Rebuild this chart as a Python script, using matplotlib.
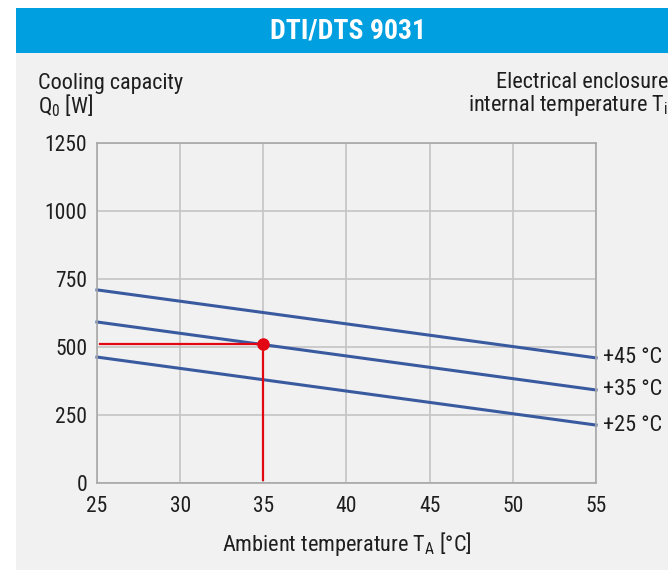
import matplotlib
matplotlib.use("Agg")
import matplotlib.pyplot as plt
from matplotlib.patches import Rectangle

plt.rcParams['font.family'] = ['Roboto Condensed', 'Liberation Sans', 'DejaVu Sans']
plt.rcParams['mathtext.fontset'] = 'custom'
plt.rcParams['mathtext.rm'] = 'Roboto Condensed'
plt.rcParams['mathtext.it'] = 'Roboto Condensed'

title = "DTI/DTS 9031"
x_ticks = [25, 30, 35, 40, 45, 50, 55]
y_ticks = [0, 250, 500, 750, 1000, 1250]
series_labels = ["+45 °C", "+35 °C", "+25 °C"]
series_x = [25, 55]
series_y = [[710, 460], [592, 342], [463, 213]]
point_x = 35
point_y = 510

TXT = "#1e1e1e"
W, H = 668, 570
fig = plt.figure(figsize=(W / 100, H / 100), dpi=100)
fig.patch.set_facecolor("white")
fig.add_artist(Rectangle((16 / W, 0), 1, (H - 53) / H, transform=fig.transFigure,
                         facecolor="#f1f1f1", edgecolor="none", zorder=-10))
fig.add_artist(Rectangle((16 / W, (H - 53) / H), 1, 45 / H, transform=fig.transFigure,
                         facecolor="#009fe0", edgecolor="none", zorder=-10))
fig.text(348 / W, 1 - 31 / H, title, color="white", fontsize=20, fontweight="bold",
         ha="center", va="center")

ax = fig.add_axes([97 / W, 1 - 483 / H, (596 - 97) / W, (483 - 143) / H])
ax.set_facecolor("#f1f1f1")
ax.set_xlim(25, 55)
ax.set_ylim(0, 1250)
ax.set_xticks(x_ticks)
ax.set_yticks(y_ticks)
ax.grid(True, color="#c4c4c4", linewidth=1.2)
ax.set_axisbelow(True)
for s in ax.spines.values():
    s.set_color("#a8a8a8")
    s.set_linewidth(1.2)
ax.tick_params(length=0, labelsize=15.5, colors=TXT)
ax.tick_params(axis="y", pad=7)
ax.tick_params(axis="x", pad=9)

for ys, lab in zip(series_y, series_labels):
    ax.plot(series_x, ys, color="#3a5aa0", linewidth=2.2, clip_on=False)
    ax.annotate(lab, xy=(series_x[-1], ys[-1]), xytext=(5, 0), textcoords="offset points",
                ha="left", va="center", fontsize=16, color=TXT, annotation_clip=False)

ax.plot([25.2, point_x], [point_y, point_y], color="#e30613", linewidth=1.6, zorder=4)
ax.plot([point_x, point_x], [point_y, 12], color="#e30613", linewidth=1.6, zorder=4)
ax.plot([point_x], [point_y], marker="o", markersize=8, color="#e30613", zorder=5)

fig.text(38 / W, 1 - 83 / H, "Cooling capacity", fontsize=16, ha="left", va="center", color=TXT)
fig.text(38 / W, 1 - 106 / H, r"Q$_0$ [W]", fontsize=16, ha="left", va="center", color=TXT)
fig.text(668 / W, 1 - 83 / H, "Electrical enclosure", fontsize=16, ha="right", va="center", color=TXT)
fig.text(668 / W, 1 - 106 / H, r"internal temperature T$_i$", fontsize=16, ha="right", va="center", color=TXT)
fig.text(347 / W, 1 - 544 / H, r"Ambient temperature T$_A$ [°C]", fontsize=16, ha="center", va="center", color=TXT)

fig.savefig("out.png", dpi=100, facecolor=fig.get_facecolor())
